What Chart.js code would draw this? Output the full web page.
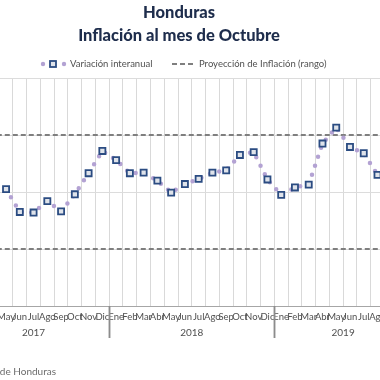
<!DOCTYPE html>
<html>
<head>
<meta charset="utf-8">
<script src="https://cdn.jsdelivr.net/npm/chart.js@4/dist/chart.umd.min.js"></script>
<style>
  html, body { margin: 0; padding: 0; width: 380px; height: 380px; overflow: hidden; background: #fff; }
  #wrap { position: absolute; left: -60px; top: 0; width: 478px; height: 380px; }
</style>
</head>
<body>
<div id="wrap"><canvas id="c" width="478" height="380"></canvas></div>
<script>
// ---- data ----
const months = ['Feb','Mar','Abr','May','Jun','Jul','Ago','Sep','Oct','Nov','Dic',
                'Ene','Feb','Mar','Abr','May','Jun','Jul','Ago','Sep','Oct','Nov','Dic',
                'Ene','Feb','Mar','Abr','May','Jun','Jul','Ago','Sep','Oct'];
const years = ['2017','2018','2019'];
const monthsInYear = [11, 12, 10];
const inflation = [null,null,null,4.05,3.65,3.64,3.84,3.66,3.96,4.33,4.72,
                   4.56,4.33,4.34,4.20,3.99,4.14,4.23,4.34,4.38,4.65,4.70,4.22,
                   3.95,4.08,4.13,4.85,5.13,4.79,4.68,4.30,null,null];
const projectionRange = [3.0, 5.0];
const yTicks = [2, 3, 4, 5, 6];

const titleLines = ['Honduras', 'Inflación al mes de Octubre'];
const legendLabels = ['Variación interanual', 'Proyección de Inflación (rango)'];
const sourceText = 'Fuente: Banco Central de Honduras';

const LINE_COLOR = '#b3a2d3';
const MARK_BORDER = '#2b4c82';
const MARK_FILL = '#dfe3ea';
const DASH_COLOR = '#7f7f7f';
const TITLE_COLOR = '#1e2d4c';
const TEXT_COLOR = '#505050';

const lastIdx = months.length - 1;

const overlay = {
  id: 'overlay',
  afterDraw(chart) {
    const ctx = chart.ctx;
    const xs = chart.scales.x;
    const area = chart.chartArea;
    const half = (xs.getPixelForValue(1) - xs.getPixelForValue(0)) / 2;
    ctx.save();
    // year separators and labels
    let start = 0;
    ctx.strokeStyle = '#8c8c8c';
    ctx.lineWidth = 1.5;
    ctx.fillStyle = TEXT_COLOR;
    ctx.font = '10px Lato, "Open Sans", sans-serif';
    ctx.textAlign = 'center';
    ctx.textBaseline = 'middle';
    years.forEach((y, k) => {
      const end = start + monthsInYear[k] - 1;
      const x0 = xs.getPixelForValue(start) - half;
      const x1 = xs.getPixelForValue(end) + half;
      [x0, x1].forEach(x => {
        ctx.beginPath();
        ctx.moveTo(Math.round(x) + 0.5, area.bottom);
        ctx.lineTo(Math.round(x) + 0.5, area.bottom + 32);
        ctx.stroke();
      });
      ctx.fillText(y, (x0 + x1) / 2, 333);
      start = end + 1;
    });
    // title
    const cx = chart.width / 2;
    ctx.fillStyle = TITLE_COLOR;
    ctx.font = '900 16.5px Lato, "Open Sans", sans-serif';
    ctx.fillText(titleLines[0], cx, 13);
    ctx.fillText(titleLines[1], cx, 36);
    // legend
    const off = 60; // page -> canvas offset
    const ly = 64;
    ctx.fillStyle = LINE_COLOR;
    [43, 64].forEach(px => { ctx.beginPath(); ctx.arc(px + off, ly, 2.2, 0, Math.PI * 2); ctx.fill(); });
    ctx.fillStyle = MARK_FILL;
    ctx.strokeStyle = MARK_BORDER;
    ctx.lineWidth = 1.8;
    ctx.fillRect(50 + off, ly - 3, 6, 6);
    ctx.strokeRect(50 + off, ly - 3, 6, 6);
    ctx.strokeStyle = DASH_COLOR;
    ctx.lineWidth = 2;
    ctx.setLineDash([5, 3]);
    ctx.beginPath(); ctx.moveTo(172 + off, ly); ctx.lineTo(196 + off, ly); ctx.stroke();
    ctx.setLineDash([]);
    ctx.fillStyle = TEXT_COLOR;
    ctx.font = '9.5px Lato, "Open Sans", sans-serif';
    ctx.textAlign = 'left';
    ctx.fillText(legendLabels[0], 70 + off, ly);
    ctx.fillText(legendLabels[1], 199 + off, ly);
    // source
    ctx.fillStyle = '#6b6b6b';
    ctx.font = '10px Lato, "Open Sans", sans-serif';
    ctx.textAlign = 'right';
    ctx.fillText(sourceText, 56 + off, 372);
    ctx.restore();
  }
};

new Chart(document.getElementById('c'), {
  type: 'line',
  data: {
    labels: months,
    datasets: [
      {
        label: legendLabels[0],
        data: inflation,
        borderColor: LINE_COLOR,
        borderWidth: 4.5,
        borderDash: [0, 9.5],
        borderCapStyle: 'round',
        tension: 0,
        pointStyle: 'rect',
        pointRadius: 4.3,
        pointBorderWidth: 1.8,
        pointBorderColor: MARK_BORDER,
        pointBackgroundColor: MARK_FILL,
        order: 0
      },
      {
        label: legendLabels[1],
        parsing: false,
        normalized: true,
        data: [{x: 0, y: projectionRange[1]}, {x: lastIdx, y: projectionRange[1]}],
        borderColor: DASH_COLOR,
        borderWidth: 2.2,
        borderDash: [5, 3],
        pointRadius: 0,
        order: 1
      },
      {
        label: legendLabels[1] + ' inf',
        parsing: false,
        normalized: true,
        data: [{x: 0, y: projectionRange[0]}, {x: lastIdx, y: projectionRange[0]}],
        borderColor: DASH_COLOR,
        borderWidth: 2.2,
        borderDash: [5, 3],
        pointRadius: 0,
        order: 1
      }
    ]
  },
  options: {
    responsive: false,
    animation: false,
    layout: { padding: { left: 17.9, right: 4.7, top: 78, bottom: 0 } },
    plugins: { legend: { display: false }, title: { display: false }, tooltip: { enabled: false } },
    scales: {
      x: {
        type: 'category',
        offset: true,
        grid: { offset: true, color: '#d9d9d9', lineWidth: 1, drawTicks: false },
        border: { display: true, color: '#a6a6a6', width: 1 },
        ticks: { autoSkip: false, maxRotation: 0, minRotation: 0, padding: 5,
                 color: TEXT_COLOR, font: { size: 9.5, family: 'Lato, "Open Sans", sans-serif' } },
        afterFit(s) { s.height = 74; s.paddingLeft = 0; s.paddingRight = 0; }
      },
      y: {
        min: yTicks[0], max: yTicks[yTicks.length - 1],
        afterBuildTicks(s) { s.ticks = yTicks.map(v => ({ value: v })); },
        grid: { color: '#dcdcdc', lineWidth: 1, drawTicks: false },
        border: { display: false },
        ticks: { display: false },
        afterFit(s) { s.width = 0; }
      }
    }
  },
  plugins: [overlay]
});
</script>
</body>
</html>
